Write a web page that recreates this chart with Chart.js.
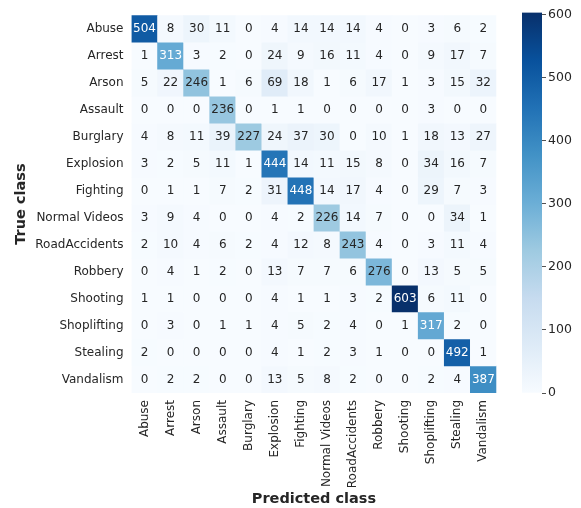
<!DOCTYPE html>
<html>
<head>
<meta charset="utf-8">
<script src="https://cdn.jsdelivr.net/npm/chart.js@4"></script>
<style>
  body { margin: 0; background: #fff; }
  #wrap { position: relative; width: 581px; height: 508px; }
  #matrix { position: absolute; left: 0; top: 0; }
  #scale { position: absolute; left: 500px; top: 0; }
</style>
</head>
<body>
<div id="wrap">
  <canvas id="matrix" width="505" height="508"></canvas>
  <canvas id="scale" width="81" height="508"></canvas>
</div>
<script>
const classes = ['Abuse', 'Arrest', 'Arson', 'Assault', 'Burglary', 'Explosion', 'Fighting',
    'Normal Videos', 'RoadAccidents', 'Robbery', 'Shooting', 'Shoplifting', 'Stealing', 'Vandalism'];

// one row per true class, columns are predicted classes
const abuse         = [504, 8, 30, 11, 0, 4, 14, 14, 14, 4, 0, 3, 6, 2];
const arrest        = [1, 313, 3, 2, 0, 24, 9, 16, 11, 4, 0, 9, 17, 7];
const arson         = [5, 22, 246, 1, 6, 69, 18, 1, 6, 17, 1, 3, 15, 32];
const assault       = [0, 0, 0, 236, 0, 1, 1, 0, 0, 0, 0, 3, 0, 0];
const burglary      = [4, 8, 11, 39, 227, 24, 37, 30, 0, 10, 1, 18, 13, 27];
const explosion     = [3, 2, 5, 11, 1, 444, 14, 11, 15, 8, 0, 34, 16, 7];
const fighting      = [0, 1, 1, 7, 2, 31, 448, 14, 17, 4, 0, 29, 7, 3];
const normalVideos  = [3, 9, 4, 0, 0, 4, 2, 226, 14, 7, 0, 0, 34, 1];
const roadAccidents = [2, 10, 4, 6, 2, 4, 12, 8, 243, 4, 0, 3, 11, 4];
const robbery       = [0, 4, 1, 2, 0, 13, 7, 7, 6, 276, 0, 13, 5, 5];
const shooting      = [1, 1, 0, 0, 0, 4, 1, 1, 3, 2, 603, 6, 11, 0];
const shoplifting   = [0, 3, 0, 1, 1, 4, 5, 2, 4, 0, 1, 317, 2, 0];
const stealing      = [2, 0, 0, 0, 0, 4, 1, 2, 3, 1, 0, 0, 492, 1];
const vandalism     = [0, 2, 2, 0, 0, 13, 5, 8, 2, 0, 0, 2, 4, 387];

const colorTicks = [0, 100, 200, 300, 400, 500, 600];

const confusion = [abuse, arrest, arson, assault, burglary, explosion, fighting,
    normalVideos, roadAccidents, robbery, shooting, shoplifting, stealing, vandalism];
const vmax = Math.max(...confusion.flat());

const FONT = "'DejaVu Sans', sans-serif";
const TEXT = '#262626';

// matplotlib "Blues"
const blues = ['#f7fbff', '#deebf7', '#c6dbef', '#9ecae1', '#6baed6', '#4292c6', '#2171b5', '#08519c', '#08306b'];

function hexRgb(h) {
    return [1, 3, 5].map(i => parseInt(h.substr(i, 2), 16));
}

function bluesRgb(t) {
    t = Math.min(1, Math.max(0, t));
    const pos = t * (blues.length - 1);
    const i = Math.min(blues.length - 2, Math.floor(pos));
    const f = pos - i;
    const a = hexRgb(blues[i]), b = hexRgb(blues[i + 1]);
    return a.map((v, k) => Math.round(v + (b[k] - v) * f));
}

function rgbStr(c) {
    return `rgb(${c[0]}, ${c[1]}, ${c[2]})`;
}

function luminance(c) {
    const lin = c.map(v => {
        v /= 255;
        return v <= 0.03928 ? v / 12.92 : Math.pow((v + 0.055) / 1.055, 2.4);
    });
    return 0.2126 * lin[0] + 0.7152 * lin[1] + 0.0722 * lin[2];
}

// each true class is a dataset of floating bars [row, row + 1]
const datasets = confusion.map((row, i) => ({
    label: classes[i],
    data: row.map(() => [i, i + 1]),
    backgroundColor: row.map(v => rgbStr(bluesRgb(v / vmax))),
    borderWidth: 0,
    grouped: false,
    barPercentage: 1,
    categoryPercentage: 1
}));

const cellText = {
    id: 'cellText',
    afterDatasetsDraw(chart) {
        const c = chart.ctx;
        c.save();
        c.font = `12px ${FONT}`;
        c.textAlign = 'center';
        c.textBaseline = 'middle';
        confusion.forEach((row, i) => {
            chart.getDatasetMeta(i).data.forEach((bar, j) => {
                const p = bar.getCenterPoint();
                const col = bluesRgb(row[j] / vmax);
                c.fillStyle = luminance(col) > 0.408 ? TEXT : '#ffffff';
                c.fillText(String(row[j]), p.x, p.y + 0.5);
            });
        });
        c.restore();
    }
};

new Chart(document.getElementById('matrix').getContext('2d'), {
    type: 'bar',
    data: { labels: classes, datasets: datasets },
    plugins: [cellText],
    options: {
        responsive: false,
        animation: false,
        layout: { padding: { top: 12.5, right: 6.5, left: 0, bottom: 0 } },
        plugins: { legend: { display: false }, tooltip: { enabled: false } },
        scales: {
            x: {
                grid: { display: false, drawTicks: false },
                border: { display: false },
                ticks: {
                    color: TEXT,
                    font: { family: FONT, size: 12 },
                    maxRotation: 90,
                    minRotation: 90,
                    padding: 7,
                    autoSkip: false
                },
                title: {
                    display: true,
                    text: 'Predicted class',
                    color: TEXT,
                    font: { family: FONT, size: 14.5, weight: 'bold' },
                    padding: { top: 0, bottom: 0 }
                },
                afterFit(scale) { scale.height = 115; }
            },
            y: {
                type: 'linear',
                min: 0,
                max: classes.length,
                reverse: true,
                grid: { display: false, drawTicks: false },
                border: { display: false },
                afterBuildTicks(scale) {
                    scale.ticks = classes.map((_, i) => ({ value: i + 0.5 }));
                },
                ticks: {
                    color: TEXT,
                    font: { family: FONT, size: 12 },
                    padding: 8,
                    autoSkip: false,
                    callback: (v, idx) => classes[idx]
                },
                title: {
                    display: true,
                    text: 'True class',
                    color: TEXT,
                    font: { family: FONT, size: 14.5, weight: 'bold' },
                    padding: { top: 13, bottom: 0 }
                },
                afterFit(scale) { scale.width = 131.5; }
            }
        }
    }
});

// colour bar: one floating bar from 0 to the largest count, filled with the colormap
new Chart(document.getElementById('scale').getContext('2d'), {
    type: 'bar',
    data: {
        labels: [''],
        datasets: [{
            data: [[0, vmax]],
            borderWidth: 0,
            barPercentage: 1,
            categoryPercentage: 1,
            backgroundColor(ctx) {
                const area = ctx.chart.chartArea;
                if (!area) return blues[0];
                const g = ctx.chart.ctx.createLinearGradient(0, area.bottom, 0, area.top);
                blues.forEach((b, i) => g.addColorStop(i / (blues.length - 1), b));
                return g;
            }
        }]
    },
    options: {
        responsive: false,
        animation: false,
        layout: { padding: { top: 12.5, left: 22, right: 0, bottom: 115 } },
        plugins: { legend: { display: false }, tooltip: { enabled: false } },
        scales: {
            x: { display: false },
            y: {
                position: 'right',
                min: 0,
                max: vmax,
                afterBuildTicks(scale) {
                    scale.ticks = colorTicks.map(v => ({ value: v }));
                },
                grid: {
                    drawOnChartArea: false,
                    tickLength: 4,
                    tickColor: TEXT,
                    tickWidth: 0.8
                },
                border: { display: false },
                ticks: {
                    color: TEXT,
                    font: { family: FONT, size: 12.5 },
                    padding: 2
                },
                afterFit(scale) { scale.width = 39; }
            }
        }
    }
});
</script>
</body>
</html>
